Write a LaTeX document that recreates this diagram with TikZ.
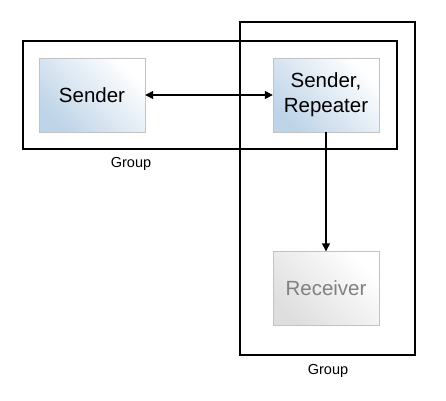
\documentclass[tikz,border=0pt]{standalone}
\usepackage{fontspec}
\setmainfont{Liberation Sans}
\usepackage{tikz}
\usetikzlibrary{arrows.meta, positioning}
\definecolor{nodeblue}{RGB}{190, 212, 232}
\definecolor{nodegray}{RGB}{222, 222, 222}
\definecolor{edgegray}{RGB}{195, 195, 195}

\begin{document}
\begin{tikzpicture}[
    x=1pt, y=1pt,
    member/.style={draw=edgegray, bottom color=nodeblue, top color=white, shading angle=-45, minimum width=106pt, minimum height=74pt, inner sep=0pt, align=center, font=\fontsize{20.5}{25}\selectfont},
    passive/.style={member, bottom color=nodegray, top color=white, shading angle=-45, text=black!50},
    group/.style={draw, line width=1.8pt},
    grouplabel/.style={font=\fontsize{14.5}{17}\selectfont},
    link/.style={line width=1.3pt, >={Triangle[length=8pt, width=8pt]}}
]
    \useasboundingbox (0, 0) rectangle (446, 400);

    % Groups
    \draw[group] (23, 251) rectangle (397, 359);
    \draw[group] (240, 45) rectangle (415, 378);
    \node[grouplabel] (lbl1) at (131, 236) {Group};
    \node[grouplabel] (lbl2) at (328, 29) {Group};

    % Members
    \node[member] (sender) at (92, 305) {Sender};
    \node[member] (repeater) at (326, 305) {Sender,\\Repeater};
    \node[passive] (receiver) at (326, 111.5) {Receiver};

    % Connections
    \draw[link, <->] (sender) -- (repeater);
    \draw[link, ->] (repeater) -- (receiver);

\end{tikzpicture}
\end{document}
